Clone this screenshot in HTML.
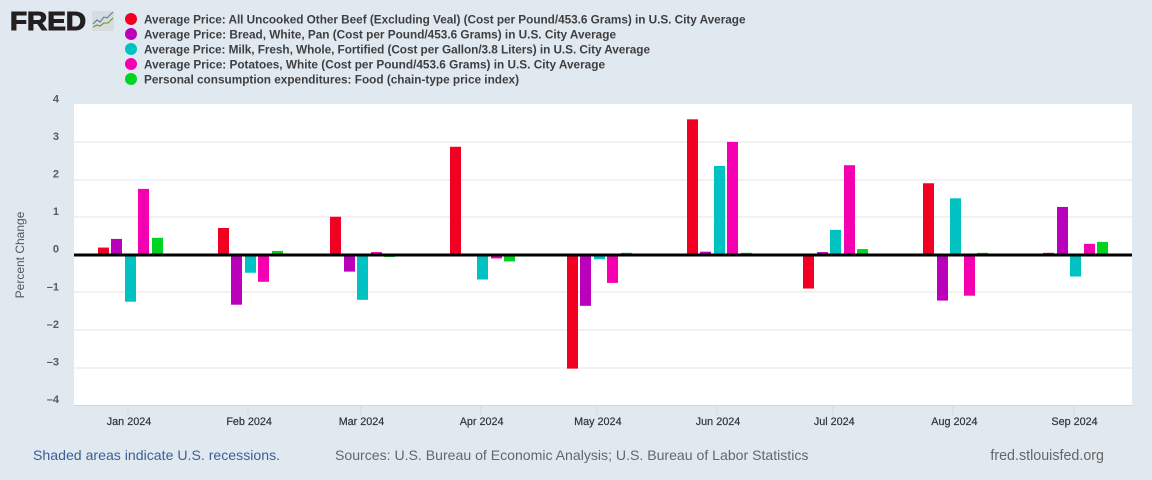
<!DOCTYPE html>
<html>
<head>
<meta charset="utf-8">
<title>FRED chart</title>
<style>
html,body{margin:0;padding:0;background:#e1e9f0;}
body{width:1152px;height:480px;overflow:hidden;}
svg{display:block;font-family:"Liberation Sans",Arial,sans-serif;}
.lg{font-size:11.8px;font-weight:bold;fill:#3f3f3f;}
</style>
</head>
<body>
<svg id="chart" width="1152" height="480" viewBox="0 0 1152 480" xmlns="http://www.w3.org/2000/svg">
  <rect x="0" y="0" width="1152" height="480" fill="#e1e9f0"/>
  <g>
    <text x="10" y="30" font-size="26" font-weight="bold" fill="#231f20" stroke="#231f20" stroke-width="1.1" textLength="76" lengthAdjust="spacingAndGlyphs">FRED</text>
    <rect x="92" y="11" width="22" height="20" rx="2" fill="#d9dcdc"/>
    <polyline points="93,24 97,20 100,22 104,17 107,18 113,12" fill="none" stroke="#4f80a6" stroke-width="1.1"/>
    <polyline points="93,27 97,25 100,26 104,23 108,23 113,18" fill="none" stroke="#65943a" stroke-width="1.1"/>
  </g>
  <g id="legend">
    <circle cx="131" cy="19" r="6" fill="#f20022"/>
    <text class="lg" x="144" y="23.3" textLength="601.5" lengthAdjust="spacing">Average Price: All Uncooked Other Beef (Excluding Veal) (Cost per Pound/453.6 Grams) in U.S. City Average</text>
    <circle cx="131" cy="34" r="6" fill="#bb00bb"/>
    <text class="lg" x="144" y="38.3" textLength="472" lengthAdjust="spacing">Average Price: Bread, White, Pan (Cost per Pound/453.6 Grams) in U.S. City Average</text>
    <circle cx="131" cy="49" r="6" fill="#00c2c2"/>
    <text class="lg" x="144" y="53.3" textLength="506" lengthAdjust="spacing">Average Price: Milk, Fresh, Whole, Fortified (Cost per Gallon/3.8 Liters) in U.S. City Average</text>
    <circle cx="131" cy="64" r="6" fill="#f400b0"/>
    <text class="lg" x="144" y="68.3" textLength="461" lengthAdjust="spacing">Average Price: Potatoes, White (Cost per Pound/453.6 Grams) in U.S. City Average</text>
    <circle cx="131" cy="79" r="6" fill="#00d420"/>
    <text class="lg" x="144" y="83.3" textLength="375" lengthAdjust="spacing">Personal consumption expenditures: Food (chain-type price index)</text>
  </g>
  <rect x="74" y="104" width="1058" height="301" fill="#ffffff"/>
  <g id="grid"></g>
  <g id="bars"></g>
  <g id="axes"></g>
  <text transform="translate(24,255) rotate(-90)" text-anchor="middle" font-size="12" fill="#555555">Percent Change</text>
  <text x="33" y="460" font-size="14.12" fill="#3b5f97">Shaded areas indicate U.S. recessions.</text>
  <text x="335" y="460" font-size="14.09" fill="#666666">Sources: U.S. Bureau of Economic Analysis; U.S. Bureau of Labor Statistics</text>
  <text x="1104" y="460" text-anchor="end" font-size="14.3" fill="#666666">fred.stlouisfed.org</text>
</svg>
<script>
const categories = ["Jan 2024","Feb 2024","Mar 2024","Apr 2024","May 2024","Jun 2024","Jul 2024","Aug 2024","Sep 2024"];
const categoryDays = [0,31,60,91,121,152,182,213,244];
const seriesColors = ["#f20022","#bb00bb","#00c2c2","#f400b0","#00d420"];
const beefValues = [0.19,0.71,1.01,2.87,-3.03,3.60,-0.90,1.90,0.05];
const breadValues = [0.42,-1.33,-0.45,0,-1.36,0.08,0.07,-1.22,1.27];
const milkValues = [-1.25,-0.48,-1.20,-0.66,-0.12,2.36,0.66,1.50,-0.58];
const potatoValues = [1.75,-0.72,0.07,-0.10,-0.75,3.00,2.38,-1.09,0.29];
const foodValues = [0.45,0.10,-0.06,-0.18,0.05,0.05,0.15,0.05,0.34];
const seriesValues = [beefValues,breadValues,milkValues,potatoValues,foodValues];
const yTicks = [4,3,2,1,0,-1,-2,-3,-4];

const NS = "http://www.w3.org/2000/svg";
function yScale(v){ return 254.7 - v * 37.6; }
function xScale(day){ return 130.3 + day * 3.875; }
function make(tag, attrs, parent){
  const el = document.createElementNS(NS, tag);
  for (const k in attrs) el.setAttribute(k, attrs[k]);
  parent.appendChild(el);
  return el;
}
const grid = document.getElementById('grid');
const bars = document.getElementById('bars');
const axes = document.getElementById('axes');

yTicks.forEach(function(t){
  const y = yScale(t);
  if (t !== 4 && t !== -4 && t !== 0) {
    const line = make('rect', {x:74, y:Math.round(y)-0.5, width:1058, height:1, fill:'#e6e6e6'}, grid);
    
    
  }
  const label = make('text', {x:59, y:y-2, 'text-anchor':'end', 'font-size':11, fill:'#4a4a4a', 'font-weight':'bold', 'fill-opacity':0.9}, axes);
  
  
  label.textContent = t < 0 ? '\u2013' + Math.abs(t) : String(t);
});

categories.forEach(function(cat, c){
  const center = xScale(categoryDays[c]);
  seriesValues.forEach(function(vals, s){
    const v = vals[c];
    if (v === 0) return;
    const left = Math.round(center + 13.5 * (s - 2) - 5.5);
    const top = Math.min(yScale(v), yScale(0));
    const h = Math.abs(yScale(v) - yScale(0));
    const bar = make('rect', {x:left, y:top, width:11, height:h, fill:seriesColors[s]}, bars);
    
    
  });
  const tickX = center - 2.2;
  const tick = make('rect', {x:Math.round(tickX)-0.5, y:405, width:1, height:10, fill:'#ccd6eb'}, axes);
  
  
  const label = make('text', {x:center - 1.3, y:425, 'text-anchor':'middle', 'font-size':10.8, fill:'#333333', stroke:'#333333', 'stroke-width':0.2}, axes);
  
  
  label.textContent = cat;
});

const zero = make('rect', {x:74, y:yScale(0)-1.2, width:1058, height:3, fill:'#000000'}, axes);


const xAxis = make('rect', {x:74, y:405, width:1058, height:1, fill:'#ccd6eb'}, axes);


</script>
</body>
</html>
